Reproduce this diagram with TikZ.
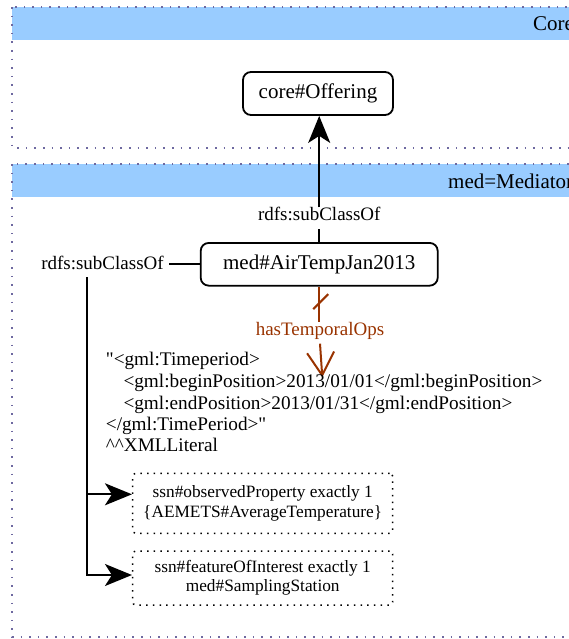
\documentclass[tikz,border=0pt]{standalone}
\usepackage{fontspec}
\setmainfont{Liberation Serif}[Ligatures=TeXOff]
\usetikzlibrary{arrows.meta,calc}
\definecolor{pkgblue}{RGB}{153,204,255}
\definecolor{pkgdot}{RGB}{110,105,160}
\definecolor{brownrel}{RGB}{153,51,0}
\begin{document}
\begin{tikzpicture}[x=1pt,y=-1pt,
  pkgborder/.style={draw=pkgdot, line width=1.6pt, dash pattern=on 1.6pt off 7pt},
  pkgtitle/.style={anchor=west, inner sep=0pt, font=\fontsize{21}{25}\selectfont},
  cls/.style={draw, line width=1.8pt, rounded corners=8pt, inner sep=0pt,
    font=\fontsize{21}{25}\selectfont},
  restr/.style={draw, line width=1.5pt, dash pattern=on 1.5pt off 5.2pt,
    rounded corners=3pt, inner sep=0pt, align=center,
    font=\fontsize{17.3}{19.5}\selectfont, minimum width=260pt},
  rel/.style={font=\fontsize{19}{22}\selectfont, text height=0.75em,
    text depth=0.25em, inner sep=5.5pt},
  lit/.style={anchor=west, inner sep=0pt, font=\fontsize{19.25}{22}\selectfont,
    text height=0.75em, text depth=0.25em},
  conn/.style={line width=2pt},
  sub/.style={conn, -{Stealth[length=27pt,width=22pt,inset=7pt]}},
  brownline/.style={draw=brownrel, line width=2pt},
]
\useasboundingbox (0,0) rectangle (569,639);
\clip (0,0) rectangle (569,639);

% Core package
\fill[pkgblue] (12,7) rectangle (600,40.5);
\draw[pkgborder] (12,7) rectangle (600,148);
\node[pkgtitle] (coretitle) at (533,24) {Core};

% Mediator package
\fill[pkgblue] (12,164) rectangle (600,196.5);
\draw[pkgborder] (12,164) rectangle (600,637);
\node[pkgtitle] (medtitle) at (448,181) {med=Mediator};

% classes
\node[cls, minimum width=150pt, minimum height=43pt] (off) at (318,93.5) {core\#Offering};
\node[cls, minimum width=237pt, minimum height=42.7pt] (air) at (319.2,264.3) {med\#AirTempJan2013};

% subclass to Offering
\node[rel] (sc1) at (319.3,218) {rdfs:subClassOf};
\draw[conn] (air.north) -- (air.north |- sc1.south);
\draw[sub] (air.north |- sc1.north) -- (off.south -| air.north);

% left subclass
\node[rel] (sc2) at (102.5,266.5) {rdfs:subClassOf};
\draw[conn] (air.west) -- (air.west -| sc2.east);
\coordinate (trunk) at ($(sc2.south)+(-15.8,0)$);

% restrictions
\node[restr, minimum height=60pt] (ob1) at (262.7,503.3)
  {ssn\#observedProperty exactly 1\\\{AEMETS\#AverageTemperature\}};
\node[restr, minimum height=54pt] (ob2) at (262.7,578)
  {ssn\#featureOfInterest exactly 1\\med\#SamplingStation};
\draw[sub] (trunk) |- ([yshift=9pt]ob1.west);
\draw[sub] (trunk) |- ([yshift=3pt]ob2.west);

% hasTemporalOps
\node[rel, text=brownrel] (hto) at (320,333) {hasTemporalOps};
\coordinate (littip) at (322.3,377.3);
\draw[brownline] (air.south) -- (air.south |- hto.north);
\draw[brownline] ($(air.south)+(-6,22.6)$) -- ($(air.south)+(9,7.6)$);
\draw[brownline, -{Straight Barb[length=23pt,width=27pt]}] (hto.south) -- (littip);

% literal
\node[lit] (lit1) at (105.7,363) {\symbol{"22}<gml:Timeperiod>};
\node[lit] (lit2) at (123.3,385) {<gml:beginPosition>2013/01/01</gml:beginPosition>};
\node[lit] (lit3) at (123.3,406.7) {<gml:endPosition>2013/01/31</gml:endPosition>};
\node[lit] (lit4) at (105.7,428) {</gml:TimePeriod>\symbol{"22}};
\node[lit] (lit5) at (105.7,448.5) {\textasciicircum\textasciicircum XMLLiteral};
\end{tikzpicture}
\end{document}
